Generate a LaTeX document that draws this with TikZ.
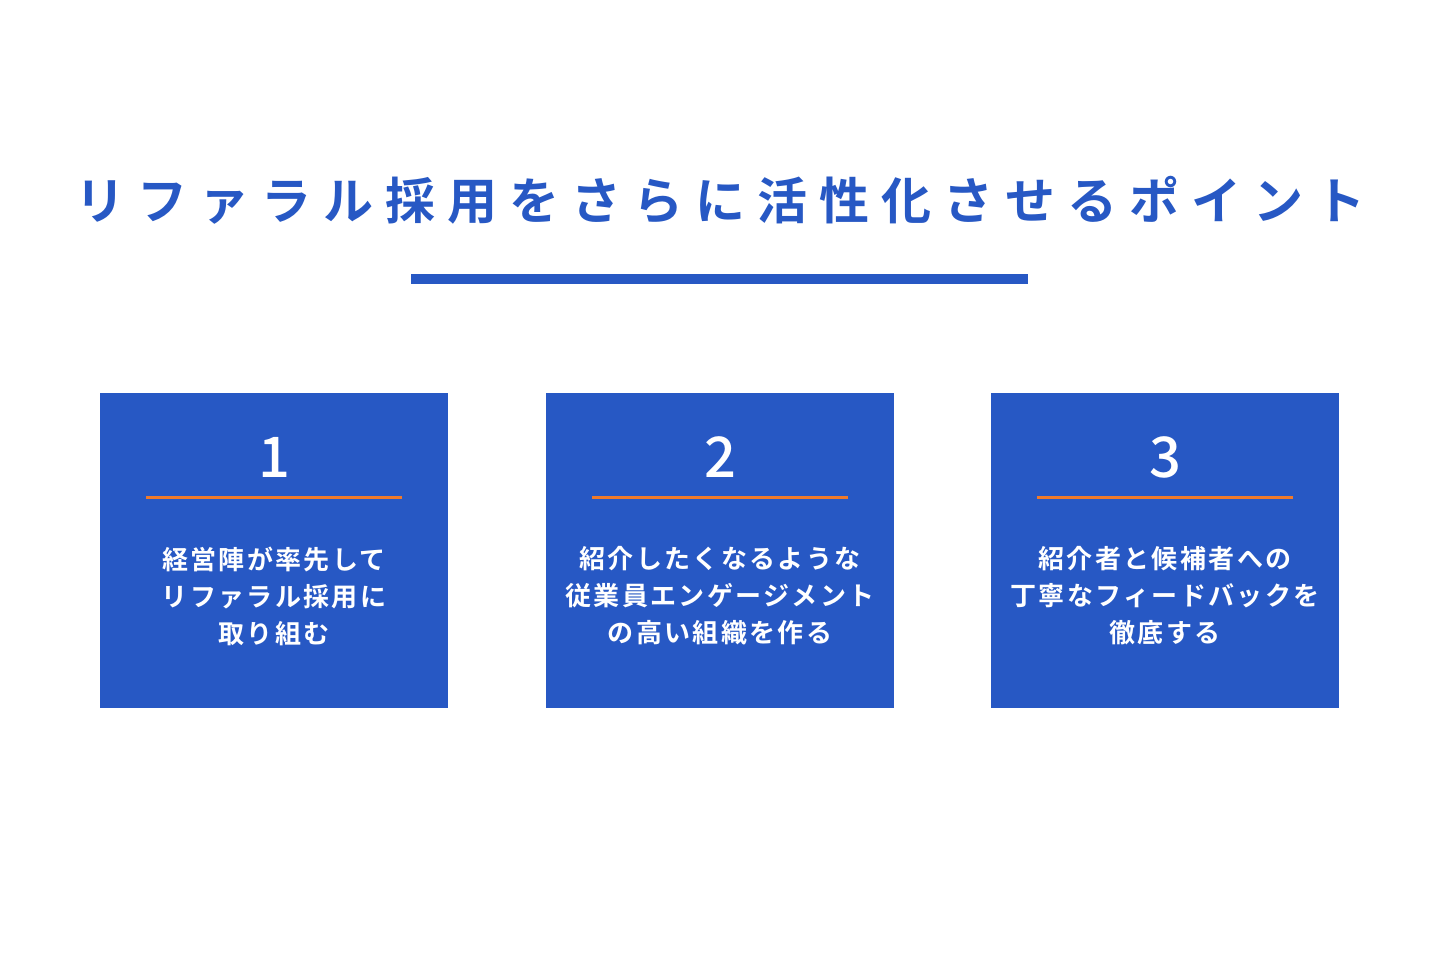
\documentclass[tikz,border=0pt]{standalone}
\usepackage{fontspec}
\setmainfont{Noto Sans CJK JP}[BoldFont={* Bold}]
\newfontfamily\titlefont{Noto Sans CJK JP Bold}[LetterSpace=24]
\newfontfamily\boxfont{Noto Sans CJK JP Bold}[LetterSpace=9]
\newfontfamily\numfont{Noto Sans CJK JP Medium}
\definecolor{pointblue}{HTML}{2758C4}
\definecolor{pointorange}{HTML}{F07A2A}
\begin{document}
\begin{tikzpicture}[x=0.5pt,y=-0.5pt,
    pointbox/.style={fill=pointblue,draw=none,minimum width=174pt,minimum height=157.5pt,inner sep=0pt},
    pointnum/.style={text=white,font=\numfont\fontsize{28}{30}\selectfont},
    pointtext/.style={text=white,align=center,font=\boxfont\fontsize{13}{18.5}\selectfont}]
  \useasboundingbox[fill=white] (0,0) rectangle (1440,960);
  %%%TITLE%%%
  \node[text=pointblue,font=\titlefont\fontsize{25}{28}\selectfont] (title) at (720,200) {リファラル採用をさらに活性化させるポイント};
  \coordinate (barl) at (411,279);
  \coordinate (barr) at (1028,279);
  \draw[pointblue,line width=5pt] (barl)--(barr);
  %%%BOXES%%%
  \foreach \i/\x/\txt in {1/274/{経営陣が率先して\\リファラル採用に\\取り組む},
                          2/720/{紹介したくなるような\\従業員エンゲージメント\\の高い組織を作る},
                          3/1165/{紹介者と候補者への\\丁寧なフィードバックを\\徹底する}}{
    \node[pointbox] (box\i) at (\x,550.5) {};
    \node[pointnum] (num\i) at (\x,457) {\i};
    \coordinate (linel\i) at (\x-128,497);
    \coordinate (liner\i) at (\x+128,497);
    \draw[pointorange,line width=1.5pt] (linel\i)--(liner\i);
    \node[pointtext] (text\i) at (\x,596) {\txt};
  }
\end{tikzpicture}
\end{document}
